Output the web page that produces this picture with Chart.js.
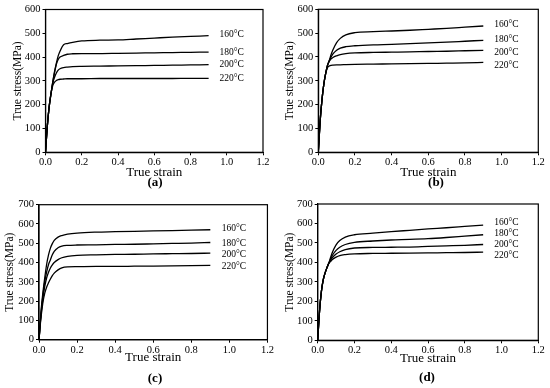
<!DOCTYPE html>
<html>
<head>
<meta charset="utf-8">
<script src="https://cdn.jsdelivr.net/npm/chart.js@4.4.1/dist/chart.umd.min.js"></script>
<style>
  body { margin: 0; background: #fff; }
  #wrap { position: relative; width: 550px; height: 388px; overflow: hidden; }
  .panel { position: absolute; width: 275px; height: 194px; }
</style>
</head>
<body>
<div id="wrap">
  <div class="panel" style="left:0;top:0"><canvas id="pa"></canvas></div>
  <div class="panel" style="left:275px;top:0"><canvas id="pb"></canvas></div>
  <div class="panel" style="left:0;top:194px"><canvas id="pc"></canvas></div>
  <div class="panel" style="left:275px;top:194px"><canvas id="pd"></canvas></div>
</div>
<script>
// strain grid shared by every curve
const strain = [0, 0.01, 0.02, 0.03, 0.04, 0.05, 0.06, 0.07, 0.08, 0.1, 0.12, 0.15, 0.2, 0.3, 0.4, 0.5, 0.6, 0.7, 0.8, 0.9];
const temps = ['160°C', '180°C', '200°C', '220°C'];
const xTicks = [0, 0.2, 0.4, 0.6, 0.8, 1.0, 1.2];

// (a)
const a160 = [0, 110, 190, 245, 295, 340, 375, 405, 425, 452, 457, 462, 468, 471, 472, 476, 480, 484, 487, 490];
const a180 = [0, 110, 190, 245, 295, 335, 370, 390, 400, 407, 412, 414, 415, 415, 416, 417, 418, 419, 420, 421];
const a200 = [0, 110, 190, 245, 290, 315, 333, 345, 351, 356, 358, 360, 361, 362, 363, 364, 365, 366, 367, 368];
const a220 = [0, 110, 190, 245, 280, 295, 302, 305, 307, 308, 309, 309, 309, 310, 310, 310, 310, 310, 311, 311];
// (b)
const b160 = [0, 130, 220, 285, 330, 362, 385, 410, 430, 460, 478, 493, 502, 506, 509, 512, 516, 520, 525, 530];
const b180 = [0, 130, 220, 285, 330, 365, 385, 400, 413, 428, 437, 443, 447, 451, 453, 456, 459, 462, 466, 470];
const b200 = [0, 130, 220, 285, 330, 365, 382, 392, 398, 405, 410, 414, 417, 419, 420, 421, 423, 424, 426, 428];
const b220 = [0, 130, 220, 285, 330, 355, 362, 365, 366, 367, 367, 368, 369, 370, 371, 372, 373, 374, 375, 377];
// (c)
const c160 = [0, 140, 240, 320, 390, 440, 475, 498, 515, 532, 540, 547, 553, 558, 560, 562, 564, 566, 568, 570];
const c180 = [0, 130, 225, 300, 350, 390, 415, 440, 458, 477, 485, 489, 491, 492, 494, 495, 497, 499, 501, 504];
const c200 = [0, 120, 210, 275, 320, 350, 372, 388, 400, 415, 425, 432, 437, 440, 442, 443, 445, 446, 447, 449];
const c220 = [0, 110, 190, 240, 272, 295, 315, 332, 345, 362, 373, 378, 379, 380, 380, 381, 382, 383, 384, 385];
// (d)
const d160 = [0, 150, 250, 310, 345, 372, 395, 425, 452, 490, 512, 530, 542, 550, 558, 565, 572, 578, 585, 592];
const d180 = [0, 150, 250, 310, 345, 372, 395, 418, 437, 462, 478, 492, 503, 510, 515, 518, 522, 528, 535, 542];
const d200 = [0, 150, 250, 310, 345, 372, 395, 412, 425, 443, 455, 466, 474, 477, 478, 479, 482, 485, 488, 492];
const d220 = [0, 150, 250, 310, 345, 372, 395, 405, 415, 427, 435, 440, 444, 446, 447, 448, 449, 450, 451, 453];

const FONT = "'Liberation Serif', 'Times New Roman', serif";

// plot box of each panel inside its 275x194 canvas, plus where the temperature labels sit (MPa)
const panels = [
  { id: 'pa', tag: '(a)', curves: [a160, a180, a200, a220], yMax: 600, labelY: [495, 420, 369, 310],
    box: { l: 45.5, r: 263, t: 9.5, b: 152.3 }, yTitleX: 18, capX: 155, capY: 183, xTitleGap: 20 },
  { id: 'pb', tag: '(b)', curves: [b160, b180, b200, b220], yMax: 600, labelY: [537, 474, 420, 366],
    box: { l: 43.3, r: 263.3, t: 9.3, b: 152.3 }, yTitleX: 15, capX: 161, capY: 183, xTitleGap: 20 },
  { id: 'pc', tag: '(c)', curves: [c160, c180, c200, c220], yMax: 700, labelY: [577, 500, 442, 379],
    box: { l: 39, r: 268.3, t: 10.7, b: 145.7 }, yTitleX: 10, capX: 155, capY: 185, xTitleGap: 18 },
  { id: 'pd', tag: '(d)', curves: [d160, d180, d200, d220], yMax: 700, labelY: [605, 550, 490, 436],
    box: { l: 42.7, r: 263.3, t: 10, b: 146.3 }, yTitleX: 15, capX: 152, capY: 184, xTitleGap: 18 }
];

const extras = {
  id: 'extras',
  afterDraw(chart, args, opts) {
    const ctx = chart.ctx, a = chart.chartArea;
    const x = chart.scales.x, y = chart.scales.y;
    ctx.save();
    ctx.strokeStyle = '#000';
    ctx.lineWidth = 1.2;
    ctx.strokeRect(a.left, a.top, a.right - a.left, a.bottom - a.top);
    ctx.fillStyle = '#000';
    ctx.font = '9.5px ' + FONT;
    ctx.textAlign = 'left';
    ctx.textBaseline = 'middle';
    chart.data.datasets.forEach((ds, i) => {
      ctx.fillText(ds.label, x.getPixelForValue(0.96), y.getPixelForValue(opts.labelY[i]));
    });
    ctx.font = 'bold 13px ' + FONT;
    ctx.textAlign = 'center';
    ctx.fillText(opts.tag, opts.capX, opts.capY);
    ctx.restore();
  }
};

panels.forEach(p => {
  const xH = 30;
  const padB = 194 - p.box.b - xH;
  const datasets = p.curves.map((vals, i) => ({
    label: temps[i],
    data: strain.map((s, k) => ({ x: s, y: vals[k] })),
    borderColor: '#000',
    borderWidth: 1.3,
    pointRadius: 0,
    fill: false,
    cubicInterpolationMode: 'monotone'
  }));
  new Chart(document.getElementById(p.id), {
    type: 'line',
    data: { datasets },
    options: {
      responsive: true,
      maintainAspectRatio: false,
      animation: false,
      layout: { padding: { left: 0, top: p.box.t, right: 275 - p.box.r, bottom: padB } },
      plugins: {
        legend: { display: false },
        tooltip: { enabled: false },
        extras: { tag: p.tag, capX: p.capX, capY: p.capY, labelY: p.labelY }
      },
      scales: {
        x: {
          type: 'linear', min: 0, max: 1.2,
          afterBuildTicks: s => { s.ticks = xTicks.map(v => ({ value: v })); },
          afterFit: s => { s.height = xH; },
          grid: { drawOnChartArea: false, drawTicks: true, tickLength: 3, color: '#000' },
          border: { display: true, color: '#000', width: 1.2 },
          ticks: { color: '#000', padding: 1, maxRotation: 0, font: { family: FONT, size: 10.5 },
                   callback: v => v.toFixed(1) },
          title: { display: true, text: 'True strain', color: '#000',
                   font: { family: FONT, size: 13 }, padding: { bottom: xH - p.xTitleGap - 7.8 } }
        },
        y: {
          min: 0, max: p.yMax,
          afterFit: s => { s.width = p.box.l; },
          grid: { drawOnChartArea: false, drawTicks: true, tickLength: 3, color: '#000' },
          border: { display: true, color: '#000', width: 1.2 },
          ticks: { color: '#000', padding: 2, stepSize: 100, font: { family: FONT, size: 10.5 } },
          title: { display: true, text: 'True stress(MPa)', color: '#000',
                   font: { family: FONT, size: 11.5 }, padding: { top: p.yTitleX - 6.9 } }
        }
      }
    },
    plugins: [extras]
  });
});
</script>
</body>
</html>
